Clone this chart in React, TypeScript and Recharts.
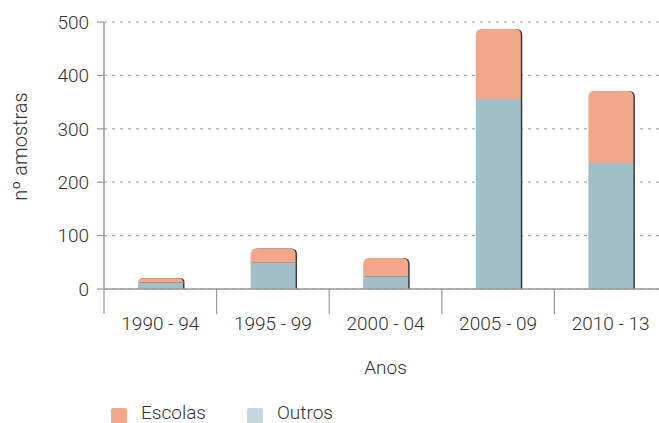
import { BarChart, Bar, XAxis, YAxis, CartesianGrid, Legend } from 'recharts'

const categories = ['1990 - 94', '1995 - 99', '2000 - 04', '2005 - 09', '2010 - 13']
const outros = [12, 49, 24, 356, 236]
const escolas = [8, 27, 34, 131, 135]
const yTicks = [0, 100, 200, 300, 400, 500]

const legendItems = [
  { name: 'Escolas', color: '#F3A78A' },
  { name: 'Outros', color: '#C5D8DE' },
]

const data = categories.map((periodo, i) => ({
  periodo,
  outros: outros[i],
  escolas: escolas[i],
}))

const CHART_W = 667
const CHART_H = 423
const Y_AXIS_W = 104
const BAND_W = (CHART_W - Y_AXIS_W) / categories.length
const FONT = 'Roboto, "Liberation Sans", sans-serif'
const FS = 19
const TEXT = '#333'
const AXIS = '#9a9a9a'
const SHADOW = '#3a3a3a'

function topPath(x: number, y: number, w: number, h: number, r: number) {
  const rr = Math.max(0, Math.min(r, h, w / 2))
  return `M${x},${y + h} L${x},${y + rr} Q${x},${y} ${x + rr},${y} L${x + w - rr},${y} Q${x + w},${y} ${x + w},${y + rr} L${x + w},${y + h} Z`
}

// bottom part of the stack, flat top
function OutrosShape(props: any) {
  const { x, y, width, height, fill } = props
  if (!height || height <= 0) return null
  return (
    <g>
      <rect x={x + 1.5} y={y} width={width} height={height} fill={SHADOW} />
      <rect x={x} y={y} width={width} height={height} fill={fill} />
    </g>
  )
}

// top part of the stack, rounded corners
function EscolasShape(props: any) {
  const { x, y, width, height, fill } = props
  if (!height || height <= 0) return null
  return (
    <g>
      <path d={topPath(x + 1.5, y, width, height, 6)} fill={SHADOW} />
      <path d={topPath(x, y, width, height, 6)} fill={fill} />
    </g>
  )
}

function XTick(props: any) {
  const { x, y, payload, index } = props
  return (
    <g>
      <line x1={x - BAND_W / 2} x2={x - BAND_W / 2} y1={y} y2={y + 25} stroke={AXIS} strokeWidth={1.2} />
      {index === categories.length - 1 && (
        <line x1={x + BAND_W / 2} x2={x + BAND_W / 2} y1={y} y2={y + 25} stroke={AXIS} strokeWidth={1.2} />
      )}
      <text x={x} y={y + 41} textAnchor="middle" fill={TEXT} fontSize={FS} fontWeight={300} fontFamily={FONT}>
        {payload.value}
      </text>
    </g>
  )
}

function renderLegend() {
  const lefts = [111, 247]
  const textLefts = [141, 277]
  return (
    <div style={{ position: 'relative', height: 30, fontFamily: FONT, fontSize: FS, fontWeight: 300, color: TEXT }}>
      {legendItems.map((item, i) => (
        <div key={item.name}>
          <div
            style={{
              position: 'absolute',
              left: lefts[i],
              top: 15,
              width: 16,
              height: 16,
              background: item.color,
              borderRadius: 2,
            }}
          />
          <div style={{ position: 'absolute', left: textLefts[i], top: 12, lineHeight: '16px', whiteSpace: 'nowrap' }}>
            {item.name}
          </div>
        </div>
      ))}
    </div>
  )
}

export default function App() {
  return (
    <div
      style={{
        position: 'absolute',
        left: 0,
        top: 0,
        width: 659,
        height: 423,
        overflow: 'hidden',
        background: '#fff',
        fontFamily: FONT,
      }}
    >
      <BarChart
        width={CHART_W}
        height={CHART_H}
        data={data}
        margin={{ top: 22, right: 0, bottom: 0, left: 0 }}
      >
        <CartesianGrid vertical={false} stroke="#a8a8a8" strokeDasharray="3 5" strokeWidth={1.2} />
        <XAxis
          dataKey="periodo"
          height={104}
          tickSize={0}
          tickMargin={0}
          tickLine={false}
          axisLine={{ stroke: AXIS, strokeWidth: 1.5 }}
          tick={<XTick />}
          interval={0}
          label={(p: any) => {
            const vb = p.viewBox || { x: Y_AXIS_W, y: 289, width: CHART_W - Y_AXIS_W }
            return (
              <text x={vb.x + vb.width / 2} y={vb.y + 85} textAnchor="middle" fill={TEXT} fontSize={FS} fontWeight={300} fontFamily={FONT}>
                Anos
              </text>
            )
          }}
        />
        <YAxis
          width={Y_AXIS_W}
          domain={[0, 500]}
          ticks={yTicks}
          tickSize={7}
          tickMargin={8}
          axisLine={{ stroke: AXIS, strokeWidth: 1.5 }}
          tickLine={{ stroke: AXIS, strokeWidth: 1.2 }}
          tick={{ fill: TEXT, fontSize: FS, fontWeight: 300, fontFamily: FONT }}
          label={(p: any) => {
            const vb = p.viewBox || { x: 0, y: 22, height: 267 }
            const cx = vb.x + 27
            const cy = vb.y + vb.height / 2 - 9
            return (
              <text
                x={cx}
                y={cy}
                textAnchor="middle"
                transform={`rotate(-90, ${cx}, ${cy})`}
                fill={TEXT}
                fontSize={20}
                fontWeight={300}
                fontFamily={FONT}
              >
                nº amostras
              </text>
            )
          }}
        />
        <Legend verticalAlign="bottom" height={30} content={renderLegend} />
        <Bar dataKey="outros" name="Outros" stackId="a" fill="#A2BEC7" barSize={45} shape={<OutrosShape />} isAnimationActive={false} />
        <Bar dataKey="escolas" name="Escolas" stackId="a" fill="#F3A78A" barSize={45} shape={<EscolasShape />} isAnimationActive={false} />
      </BarChart>
    </div>
  )
}
